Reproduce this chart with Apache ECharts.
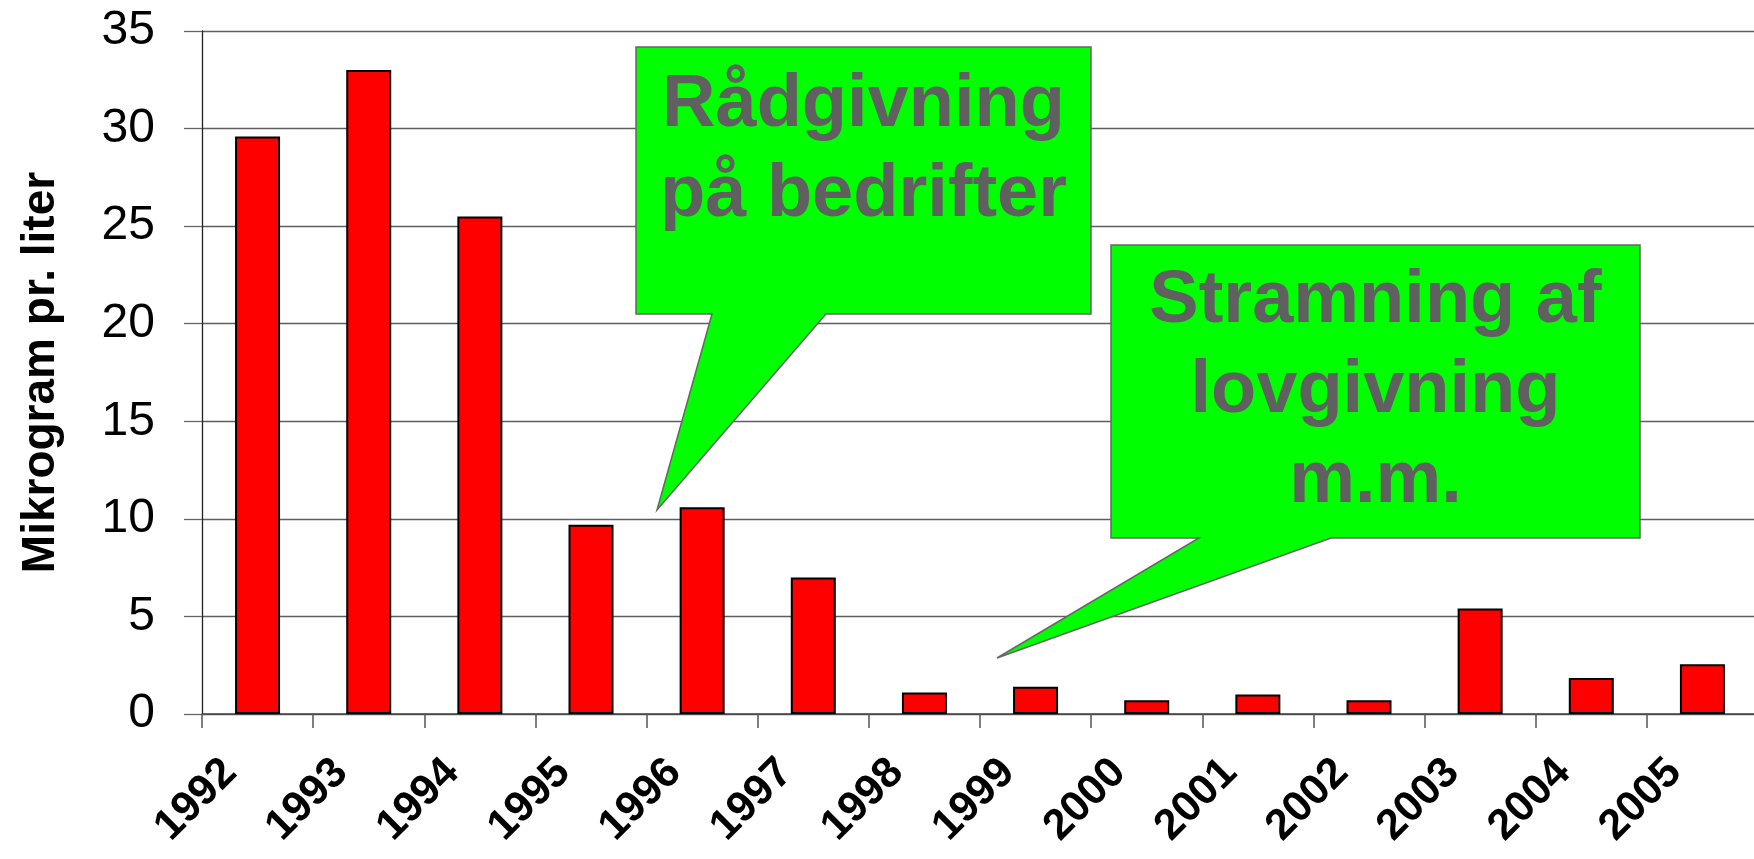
<!DOCTYPE html>
<html>
<head>
<meta charset="utf-8">
<script src="https://cdn.jsdelivr.net/npm/echarts@6/dist/echarts.min.js"></script>
<style>
  html, body { margin: 0; padding: 0; background: #fff; }
  #main { width: 1754px; height: 859px; }
</style>
</head>
<body>
<div id="main"></div>
<script>
// data
var years = ['1992', '1993', '1994', '1995', '1996', '1997', '1998', '1999',
             '2000', '2001', '2002', '2003', '2004', '2005'];
var values = [29.6, 33.0, 25.5, 9.7, 10.6, 7.0, 1.1, 1.4, 0.7, 1.0, 0.7, 5.4, 1.85, 2.55];
var yTicks = [0, 35, 5];   // min, max, interval
var yName = 'Mikrogram pr. liter';
var note1 = ['Rådgivning', 'på bedrifter'];
var note2 = ['Stramning af', 'lovgivning', 'm.m.'];

var font = 'Liberation Sans, Arial, sans-serif';

var myChart = echarts.init(document.getElementById('main'));

// callout = box + pointer, drawn as one polygon
function callout(box, base, tip, lines, textTop) {
  return [{
    type: 'polygon',
    z: 10,
    shape: {
      points: [
        [box[0], box[1]], [box[2], box[1]], [box[2], box[3]],
        [base[1], box[3]], tip, [base[0], box[3]], [box[0], box[3]]
      ]
    },
    style: { fill: '#00ff00', stroke: '#666666', lineWidth: 1.5 }
  }, {
    type: 'text',
    z: 11,
    x: (box[0] + box[2]) / 2,
    y: textTop,
    style: {
      text: lines.join('\n'),
      fill: '#606060',
      font: 'bold 74px ' + font,
      lineHeight: 90,
      align: 'center',
      verticalAlign: 'top'
    }
  }];
}

myChart.setOption({
  backgroundColor: '#ffffff',
  animation: false,
  grid: {
    left: 202,
    top: 31,
    width: 1556,
    height: 683,
    containLabel: false,
    outerBoundsMode: 'none'
  },
  xAxis: {
    type: 'category',
    data: years,
    axisLine: { lineStyle: { color: '#444', width: 1.5 } },
    axisTick: { show: true, length: 14, lineStyle: { color: '#555', width: 1.5 } },
    axisLabel: {
      interval: 0,
      rotate: 45,
      margin: 64,
      padding: [0, 11, 0, 0],
      verticalAlign: 'bottom',
      lineHeight: 56,
      color: '#000',
      fontFamily: font,
      fontWeight: 'bold',
      fontSize: 43
    }
  },
  yAxis: {
    type: 'value',
    min: yTicks[0],
    max: yTicks[1],
    interval: yTicks[2],
    name: yName,
    nameLocation: 'middle',
    nameRotate: 90,
    nameGap: 138,
    nameTextStyle: {
      color: '#000',
      fontFamily: font,
      fontWeight: 'bold',
      fontSize: 46
    },
    axisLine: { show: true, lineStyle: { color: '#222', width: 1.3 } },
    axisTick: { show: true, length: 18, lineStyle: { color: '#666', width: 1.3 } },
    axisLabel: {
      margin: 47,
      color: '#000',
      fontFamily: font,
      fontSize: 48
    },
    splitLine: { lineStyle: { color: '#5e5e5e', width: 1.3 } }
  },
  series: [{
    type: 'bar',
    data: values,
    barWidth: 45,
    itemStyle: {
      color: '#ff0000',
      borderColor: '#000',
      borderWidth: 2
    }
  }],
  graphic: callout([636, 47, 1091, 314], [712, 826], [657, 510], note1, 61)
    .concat(callout([1111, 245, 1640, 538], [1199, 1331], [997, 658], note2, 257))
});
</script>
</body>
</html>
